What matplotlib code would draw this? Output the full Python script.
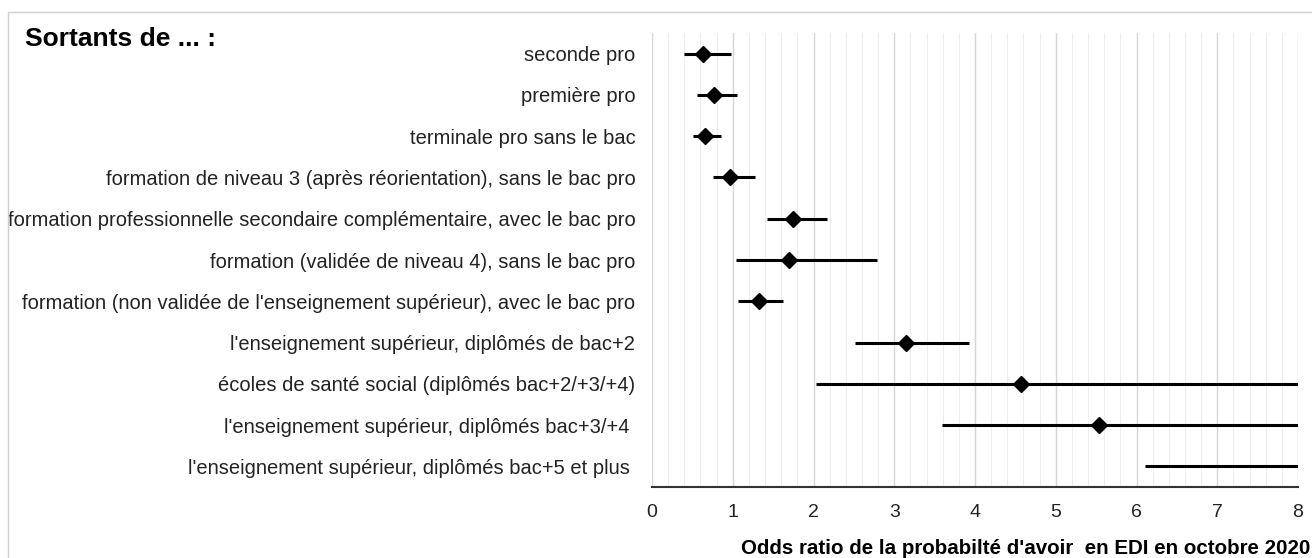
import matplotlib.pyplot as plt
from matplotlib.patches import Rectangle
import numpy as np

plt.rcParams['font.family'] = ['Liberation Sans', 'DejaVu Sans']

# données (odds ratio et intervalles de confiance)
categories = [
    "seconde pro",
    "première pro",
    "terminale pro sans le bac",
    "formation de niveau 3 (après réorientation), sans le bac pro",
    "formation professionnelle secondaire complémentaire, avec le bac pro",
    "formation (validée de niveau 4), sans le bac pro",
    "formation (non validée de l'enseignement supérieur), avec le bac pro",
    "l'enseignement supérieur, diplômés de bac+2",
    "écoles de santé social (diplômés bac+2/+3/+4)",
    "l'enseignement supérieur, diplômés bac+3/+4 ",
    "l'enseignement supérieur, diplômés bac+5 et plus ",
]
odds = [0.63, 0.77, 0.66, 0.96, 1.75, 1.70, 1.32, 3.14, 4.57, 5.54, 10.5]
ic_bas = [0.40, 0.56, 0.51, 0.76, 1.43, 1.04, 1.07, 2.51, 2.03, 3.59, 6.11]
ic_haut = [0.98, 1.05, 0.86, 1.27, 2.17, 2.79, 1.62, 3.93, 10.3, 8.6, 18.0]

fig = plt.figure(figsize=(13.12, 5.58), dpi=100)
ax = fig.add_axes([652/1312, 1-487/558, (1298-652)/1312, (487-33)/558])

y = np.arange(len(categories))
ax.hlines(y, ic_bas, ic_haut, color='black', linewidth=2.2, zorder=3)
ax.plot(odds, y, linestyle='none', marker='D', markersize=8,
        color='black', zorder=4)

ax.set_xlim(0, 8)
ax.set_ylim(len(categories) - 0.5, -0.5)
ax.set_xticks(np.arange(0, 9))
ax.set_xticks(np.arange(0, 8.01, 0.2), minor=True)
ax.set_yticks(y)
ax.set_yticklabels(categories, fontsize=14.5)
ax.tick_params(axis='x', labelsize=14, length=0, pad=12, colors='#222222')
ax.tick_params(axis='x', which='minor', length=0)
ax.tick_params(axis='y', length=0, pad=12, colors='#222222')

ax.grid(axis='x', which='major', color='#d6d6d6', linewidth=1.0, zorder=0)
ax.grid(axis='x', which='minor', color='#ededed', linewidth=0.8, zorder=0)
ax.set_axisbelow(True)

for s in ['top', 'right', 'left']:
    ax.spines[s].set_visible(False)
ax.spines['bottom'].set_color('#333333')
ax.spines['bottom'].set_linewidth(1.5)

fig.text(25/1312, 1-46/558, "Sortants de ... :", fontsize=19,
         fontweight='bold', va='baseline', ha='left')
fig.text(1310/1312, 1-549/558,
         "Odds ratio de la probabilté d'avoir  en EDI en octobre 2020",
         fontsize=14.8, fontweight='bold', va='center', ha='right')

# cadre gris autour du graphique
fig.patches.append(Rectangle((8/1312, -0.1), 1.2, 1-12/558+0.1,
                             transform=fig.transFigure, fill=False,
                             edgecolor='#d0d0d0', linewidth=1.0))

fig.savefig('out.png', dpi=100)
